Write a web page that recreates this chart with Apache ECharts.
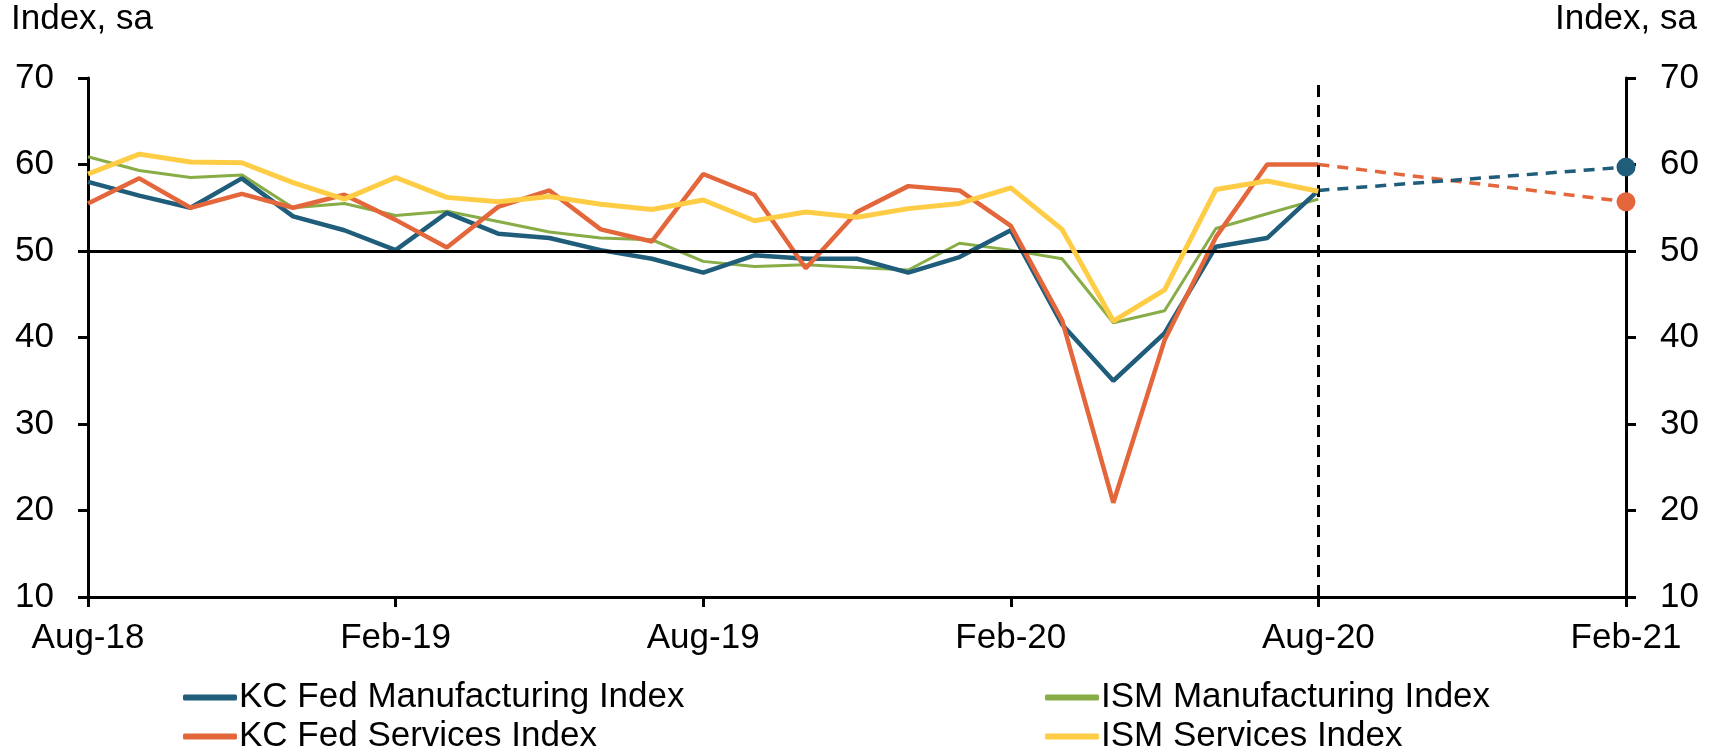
<!DOCTYPE html>
<html>
<head>
<meta charset="utf-8">
<script src="https://cdn.jsdelivr.net/npm/echarts@6/dist/echarts.min.js"></script>
<style>
  html, body { margin: 0; padding: 0; background: #fff; }
  #chart { width: 1717px; height: 746px; }
</style>
</head>
<body>
<div id="chart"></div>
<script>
var months = ['Aug-18', 'Sep-18', 'Oct-18', 'Nov-18', 'Dec-18', 'Jan-19',
  'Feb-19', 'Mar-19', 'Apr-19', 'May-19', 'Jun-19', 'Jul-19',
  'Aug-19', 'Sep-19', 'Oct-19', 'Nov-19', 'Dec-19', 'Jan-20',
  'Feb-20', 'Mar-20', 'Apr-20', 'May-20', 'Jun-20', 'Jul-20',
  'Aug-20', 'Sep-20', 'Oct-20', 'Nov-20', 'Dec-20', 'Jan-21', 'Feb-21'];

// monthly readings, Aug-18 .. Aug-20
var kcMfg = [58, 56.4, 55, 58.4, 54, 52.4, 50.1, 54.4, 52, 51.5, 50.1, 49.1, 47.5,
  49.5, 49.1, 49.1, 47.5, 49.3, 52.4, 41.5, 35, 40.5, 50.5, 51.5, 57];
var ismMfg = [60.9, 59.3, 58.5, 58.8, 55, 55.5, 54.1, 54.6, 53.4, 52.2, 51.5, 51.3, 48.8,
  48.2, 48.4, 48.1, 47.8, 50.9, 50.1, 49.1, 41.7, 43.1, 52.6, 54.3, 56];
var kcSvc = [55.5, 58.4, 55, 56.6, 55, 56.5, 53.6, 50.4, 55.1, 57, 52.5, 51.1, 58.9,
  56.5, 48, 54.5, 57.5, 57, 52.9, 42, 20.9, 39.7, 51.6, 60, 60];
var ismSvc = [58.9, 61.2, 60.3, 60.2, 57.9, 56, 58.5, 56.2, 55.7, 56.3, 55.4, 54.8, 55.9,
  53.5, 54.5, 53.9, 54.9, 55.5, 57.3, 52.5, 41.9, 45.5, 57.1, 58.1, 56.9];

// expectations: Aug-20 -> Feb-21
var outlookMonths = ['Aug-20', 'Feb-21'];
var kcMfgOutlook = [57, 59.7];
var kcSvcOutlook = [60, 55.7];

var blue = '#1f5d7b', green = '#88ac46', orange = '#e4663b', yellow = '#fecd45';
var font = 'Liberation Sans, Arial, sans-serif';
var fs = 35;

function outlook(vals, color) {
  var data = months.map(function () { return null; });
  outlookMonths.forEach(function (m, i) {
    var idx = months.indexOf(m);
    data[idx] = i === vals.length - 1
      ? { value: vals[i], symbol: 'circle', symbolSize: 19 }
      : vals[i];
  });
  return {
    type: 'line', data: data, connectNulls: true, symbol: 'none', showSymbol: true,
    itemStyle: { color: color }, z: 3,
    lineStyle: { color: color, width: 3.5, type: [11, 8] }
  };
}

function legendItem(name, left, top) {
  return {
    left: left, top: top, itemWidth: 54, itemHeight: 6, icon: 'roundRect', itemGap: 0,
    itemStyle: { borderWidth: 0 },
    textStyle: { fontSize: fs, fontFamily: font, color: '#000', lineHeight: fs, padding: [0, 0, 0, -3] },
    data: [name]
  };
}

var chart = echarts.init(document.getElementById('chart'), null, { renderer: 'canvas' });

var yAxisBase = {
  type: 'value', min: 10, max: 70, interval: 10,
  splitLine: { show: false },
  axisLine: { show: true, lineStyle: { color: '#000', width: 3 } },
  axisTick: { show: true, inside: false, length: 10, lineStyle: { color: '#000', width: 3 } },
  axisLabel: { color: '#000', fontSize: fs, fontFamily: font, margin: 34 }
};

chart.setOption({
  animation: false,
  grid: { left: 88, right: 91, top: 78, bottom: 149 },
  graphic: [
    { type: 'text', left: 11, top: 2, style: { text: 'Index, sa', font: fs + 'px ' + font, fill: '#000' } },
    { type: 'text', right: 20, top: 2, style: { text: 'Index, sa', font: fs + 'px ' + font, fill: '#000' } }
  ],
  legend: [
    legendItem('KC Fed Manufacturing Index', 178, 675),
    legendItem('KC Fed Services Index', 178, 714),
    legendItem('ISM Manufacturing Index', 1040, 675),
    legendItem('ISM Services Index', 1040, 714)
  ],
  xAxis: {
    type: 'category', data: months, boundaryGap: false,
    axisLine: { lineStyle: { color: '#000', width: 3 } },
    axisTick: { interval: 5, length: 10, lineStyle: { color: '#000', width: 3 } },
    axisLabel: { interval: 5, color: '#000', fontSize: fs, fontFamily: font, margin: 24 }
  },
  yAxis: [
    Object.assign({}, yAxisBase, { position: 'left' }),
    Object.assign({}, yAxisBase, { position: 'right' })
  ],
  series: [
    {
      name: 'ISM Manufacturing Index', type: 'line', data: ismMfg, symbol: 'none',
      lineStyle: { color: green, width: 3 }, itemStyle: { color: green }, z: 2,
      markLine: {
        silent: true, symbol: 'none', label: { show: false },
        data: [
          { yAxis: 50, lineStyle: { color: '#000', width: 3, type: 'solid' } },
          { xAxis: 'Aug-20', lineStyle: { color: '#000', width: 3, type: [12, 8] } }
        ]
      }
    },
    {
      name: 'KC Fed Manufacturing Index', type: 'line', data: kcMfg, symbol: 'none',
      lineStyle: { color: blue, width: 4.5 }, itemStyle: { color: blue }, z: 3
    },
    {
      name: 'KC Fed Services Index', type: 'line', data: kcSvc, symbol: 'none',
      lineStyle: { color: orange, width: 4.5 }, itemStyle: { color: orange }, z: 4
    },
    {
      name: 'ISM Services Index', type: 'line', data: ismSvc, symbol: 'none',
      lineStyle: { color: yellow, width: 5 }, itemStyle: { color: yellow }, z: 5
    },
    outlook(kcSvcOutlook, orange),
    outlook(kcMfgOutlook, blue)
  ]
});
</script>
</body>
</html>
